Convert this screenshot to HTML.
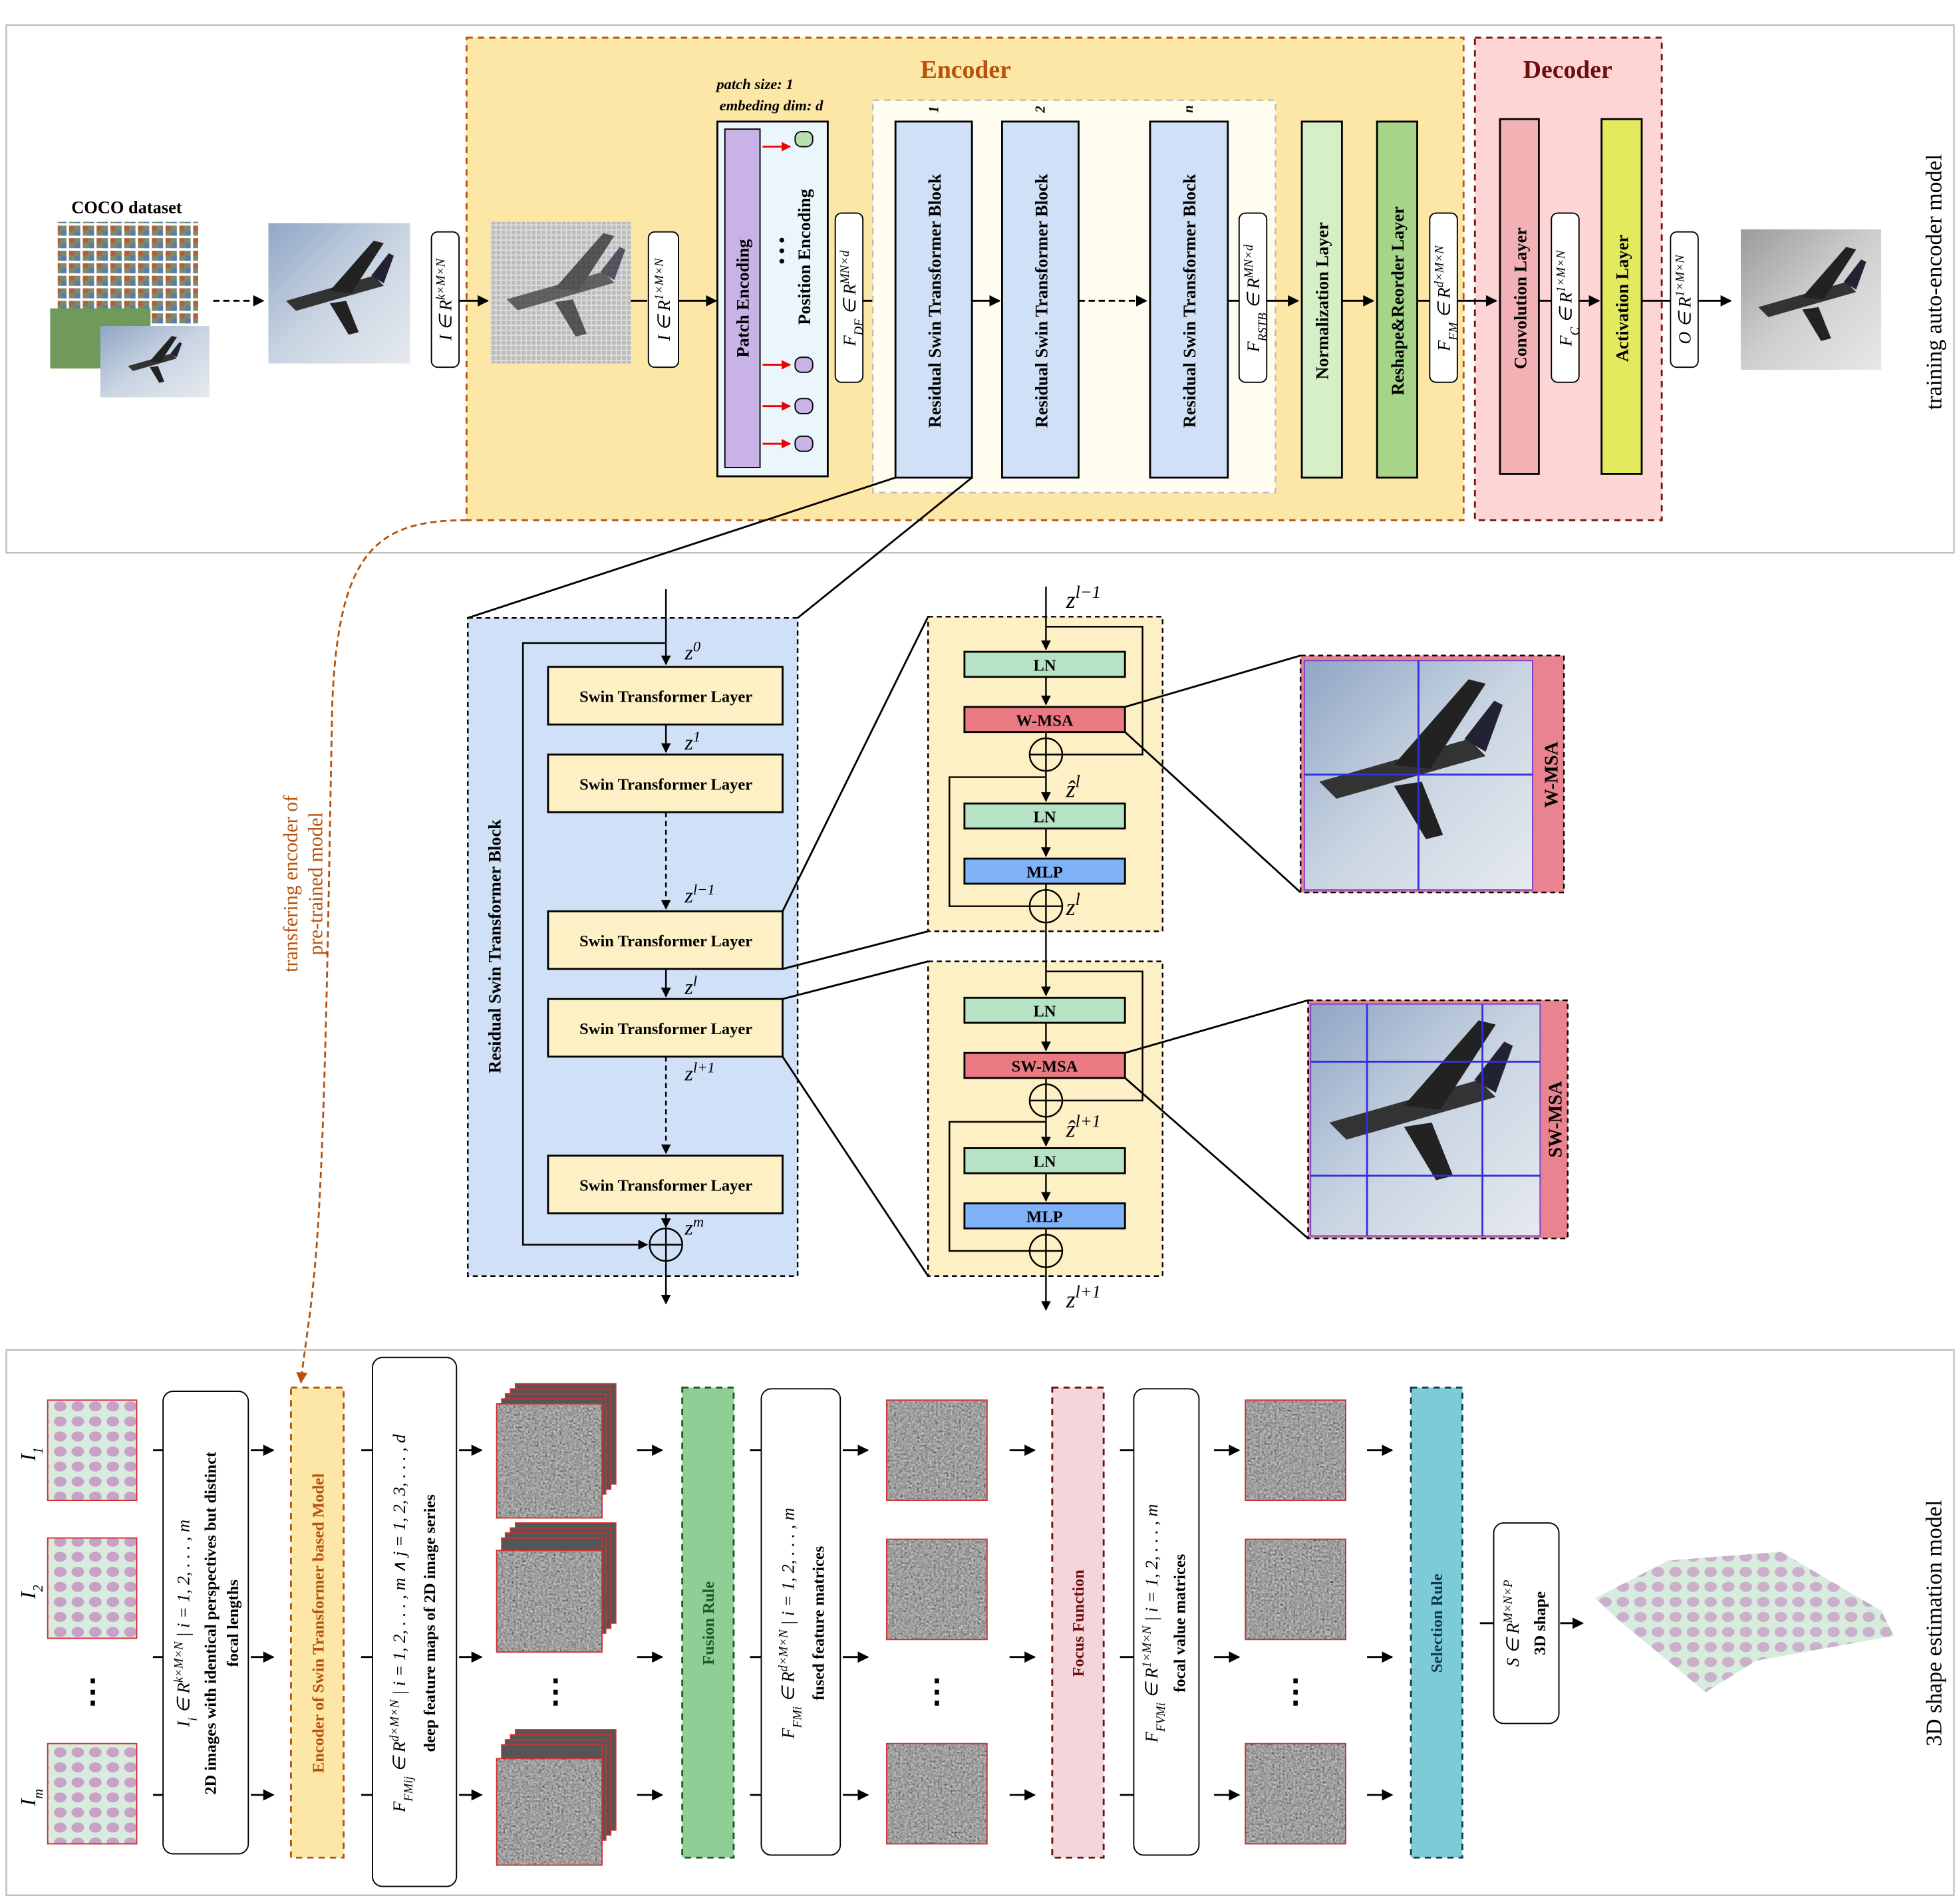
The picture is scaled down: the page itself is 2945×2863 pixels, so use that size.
<!DOCTYPE html>
<html><head><meta charset="utf-8"><style>html,body{margin:0;padding:0;background:#fff}svg{display:block}text{font-family:"Liberation Serif",serif}</style></head><body>
<svg xmlns="http://www.w3.org/2000/svg" width="2945" height="2863" viewBox="0 0 1562 1519" preserveAspectRatio="none">
<defs>
<marker id="ar" viewBox="0 0 10 10" refX="9" refY="5" markerWidth="6" markerHeight="6" orient="auto"><path d="M0,0L10,5L0,10z" fill="#000"/></marker>
<marker id="aro" viewBox="0 0 10 10" refX="9" refY="5" markerWidth="6" markerHeight="6" orient="auto"><path d="M0,0L10,5L0,10z" fill="#b5520c"/></marker>
<marker id="arr" viewBox="0 0 10 10" refX="9" refY="5" markerWidth="5" markerHeight="5" orient="auto"><path d="M0,0L10,5L0,10z" fill="#e00"/></marker>
<linearGradient id="sky" x1="0" y1="0" x2="1" y2="1"><stop offset="0" stop-color="#8fa6c4"/><stop offset=".5" stop-color="#c9d4e2"/><stop offset="1" stop-color="#e6eaef"/></linearGradient>
<linearGradient id="skyg" x1="0" y1="0" x2="1" y2="1"><stop offset="0" stop-color="#9a9a9a"/><stop offset=".5" stop-color="#cfcfcf"/><stop offset="1" stop-color="#e8e8e8"/></linearGradient>
<filter id="noise" x="0" y="0" width="1" height="1"><feTurbulence type="fractalNoise" baseFrequency="0.6" numOctaves="2" seed="3"/><feColorMatrix type="matrix" values="0.33 0.33 0.33 0 0  0.33 0.33 0.33 0 0  0.33 0.33 0.33 0 0  0 0 0 0 1"/><feComponentTransfer><feFuncR type="linear" slope="1.2" intercept="-0.25"/><feFuncG type="linear" slope="1.2" intercept="-0.25"/><feFuncB type="linear" slope="1.2" intercept="-0.25"/></feComponentTransfer></filter>
<pattern id="cells" width="14" height="12" patternUnits="userSpaceOnUse"><rect width="14" height="12" fill="#d8ecdd"/><ellipse cx="6" cy="6" rx="5" ry="4" fill="#c9a0c8"/></pattern>
<pattern id="pix" width="4" height="4" patternUnits="userSpaceOnUse"><rect width="4" height="4" fill="#ddd"/><rect width="3" height="3" fill="#bbb"/></pattern>
<pattern id="mos" width="11" height="10" patternUnits="userSpaceOnUse"><rect width="11" height="10" fill="#fff"/><rect width="9" height="8" fill="#7a8a6a"/><rect width="4" height="4" fill="#b06040"/><rect x="5" y="4" width="4" height="4" fill="#5a7ab0"/></pattern>
<g id="plane"><path d="M-40,8 L30,-12 L38,-4 L-32,16z" fill="#333"/><path d="M-5,0 L30,-40 L38,-38 L12,2z" fill="#222"/><path d="M-5,10 L10,35 L18,33 L8,8z" fill="#222"/><path d="M28,-12 L42,-30 L46,-28 L38,-6z" fill="#223"/></g>
</defs>

<!-- TOP PANEL -->
<rect x="5" y="20" width="1553" height="421" fill="#fff" stroke="#bbb" stroke-width="1.2"/>
<rect x="372" y="30" width="795" height="385" fill="#fde7a6" stroke="#b5520c" stroke-width="1.5" stroke-dasharray="5,4"/>
<text x="770" y="62" font-size="20" font-weight="bold" fill="#b5520c" text-anchor="middle">Encoder</text>
<rect x="1176" y="30" width="149" height="385" fill="#fdd5d5" stroke="#7a1010" stroke-width="1.5" stroke-dasharray="5,4"/>
<text x="1250" y="62" font-size="20" font-weight="bold" fill="#6e0e0e" text-anchor="middle">Decoder</text>
<text transform="translate(1548,225) rotate(-90)" font-size="18" text-anchor="middle">training auto-encoder model</text>

<text x="101" y="170" font-size="14" font-weight="bold" text-anchor="middle">COCO dataset</text>
<rect x="46" y="177" width="112" height="83" fill="url(#mos)"/>
<rect x="40" y="246" width="80" height="48" fill="#6f9a5a"/>
<rect x="80" y="260" width="87" height="57" fill="url(#sky)"/>
<use href="#plane" transform="translate(122,288) scale(0.5)"/>
<line x1="170" y1="240" x2="210" y2="240" stroke="#000" stroke-width="1.5" stroke-dasharray="5,3" marker-end="url(#ar)"/>
<rect x="214" y="178" width="113" height="112" fill="url(#sky)"/>
<use href="#plane" transform="translate(268,232) scale(1)"/>
<rect x="344" y="185" width="22" height="108" rx="5" fill="#fff" stroke="#000"/>
<text transform="translate(360,239) rotate(-90)" font-size="14" font-style="italic" text-anchor="middle">I ∈ R<tspan baseline-shift="super" font-size="10">k×M×N</tspan></text>
<line x1="366" y1="240" x2="389" y2="240" stroke="#000" stroke-width="1.5" marker-end="url(#ar)"/>
<rect x="391" y="177" width="112" height="113" fill="url(#pix)"/>
<use href="#plane" transform="translate(448,230) scale(1.1)" opacity=".7"/>
<line x1="503" y1="240" x2="516" y2="240" stroke="#000" stroke-width="1.5"/>
<rect x="517" y="185" width="24" height="108" rx="5" fill="#fff" stroke="#000"/>
<text transform="translate(534,239) rotate(-90)" font-size="14" font-style="italic" text-anchor="middle">I ∈ R<tspan baseline-shift="super" font-size="10">1×M×N</tspan></text>
<line x1="541" y1="240" x2="571" y2="240" stroke="#000" stroke-width="1.5" marker-end="url(#ar)"/>

<text x="602" y="71" font-size="12" font-style="italic" font-weight="bold" text-anchor="middle">patch size: 1</text>
<text x="615" y="88" font-size="12" font-style="italic" font-weight="bold" text-anchor="middle">embeding dim: d</text>
<rect x="572" y="97" width="88" height="283" fill="#eaf6fb" stroke="#000" stroke-width="1.5"/>
<rect x="578" y="103" width="28" height="270" fill="#c9b3e6" stroke="#000"/>
<text transform="translate(597,238) rotate(-90)" font-size="14" font-weight="bold" text-anchor="middle">Patch Encoding</text>
<text transform="translate(646,205) rotate(-90)" font-size="14" font-weight="bold" text-anchor="middle">Position Encoding</text>
<text transform="translate(628,200) rotate(-90)" font-size="14" font-weight="bold" text-anchor="middle">• • •</text>
<g stroke="#000" stroke-width="1">
<rect x="634" y="105" width="14" height="12" rx="5" fill="#b7e0b0"/>
<rect x="634" y="285" width="14" height="12" rx="5" fill="#c9b3e6"/>
<rect x="634" y="318" width="14" height="12" rx="5" fill="#c9b3e6"/>
<rect x="634" y="348" width="14" height="12" rx="5" fill="#c9b3e6"/>
</g>
<g stroke="#e00" stroke-width="1.5" marker-end="url(#arr)"><line x1="608" y1="117" x2="630" y2="117"/><line x1="608" y1="291" x2="630" y2="291"/><line x1="608" y1="324" x2="630" y2="324"/><line x1="608" y1="354" x2="630" y2="354"/></g>
<rect x="666" y="170" width="22" height="135" rx="5" fill="#fff" stroke="#000"/>
<text transform="translate(682,238) rotate(-90)" font-size="14" font-style="italic" text-anchor="middle">F<tspan font-size="10" baseline-shift="sub">DF</tspan> ∈ R<tspan baseline-shift="super" font-size="10">MN×d</tspan></text>
<line x1="688" y1="240" x2="711" y2="240" stroke="#000" stroke-width="1.5" marker-end="url(#ar)"/>

<rect x="696" y="80" width="321" height="313" fill="#fffdf0" stroke="#bbb" stroke-width="1.2" stroke-dasharray="5,4"/>
<g fill="#cfe0f7" stroke="#000" stroke-width="1.5">
<rect x="714" y="97" width="61" height="284"/><rect x="799" y="97" width="61" height="284"/><rect x="917" y="97" width="62" height="284"/></g>
<g font-size="14" font-weight="bold" text-anchor="middle">
<text transform="translate(750,240) rotate(-90)">Residual Swin Transformer Block</text>
<text transform="translate(835,240) rotate(-90)">Residual Swin Transformer Block</text>
<text transform="translate(953,240) rotate(-90)">Residual Swin Transformer Block</text></g>
<g font-size="11" font-style="italic" font-weight="bold"><text transform="translate(748,90) rotate(-90)">1</text><text transform="translate(833,90) rotate(-90)">2</text><text transform="translate(951,90) rotate(-90)">n</text></g>
<line x1="775" y1="240" x2="797" y2="240" stroke="#000" stroke-width="1.5" marker-end="url(#ar)"/>
<line x1="860" y1="240" x2="914" y2="240" stroke="#000" stroke-width="1.5" stroke-dasharray="5,3" marker-end="url(#ar)"/>
<line x1="979" y1="240" x2="988" y2="240" stroke="#000" stroke-width="1.5"/>
<rect x="988" y="170" width="22" height="135" rx="5" fill="#fff" stroke="#000"/>
<text transform="translate(1004,238) rotate(-90)" font-size="14" font-style="italic" text-anchor="middle">F<tspan font-size="10" baseline-shift="sub">RSTB</tspan> ∈ R<tspan baseline-shift="super" font-size="10">MN×d</tspan></text>
<line x1="1010" y1="240" x2="1035" y2="240" stroke="#000" stroke-width="1.5" marker-end="url(#ar)"/>
<rect x="1038" y="97" width="32" height="284" fill="#d6efc7" stroke="#000" stroke-width="1.5"/>
<text transform="translate(1059,240) rotate(-90)" font-size="14" font-weight="bold" text-anchor="middle">Normalization Layer</text>
<line x1="1070" y1="240" x2="1095" y2="240" stroke="#000" stroke-width="1.5" marker-end="url(#ar)"/>
<rect x="1098" y="97" width="32" height="284" fill="#a6d58a" stroke="#000" stroke-width="1.5"/>
<text transform="translate(1119,240) rotate(-90)" font-size="14" font-weight="bold" text-anchor="middle">Reshape&amp;Reorder Layer</text>
<line x1="1130" y1="240" x2="1140" y2="240" stroke="#000" stroke-width="1.5"/>
<rect x="1140" y="170" width="22" height="135" rx="5" fill="#fff" stroke="#000"/>
<text transform="translate(1156,238) rotate(-90)" font-size="14" font-style="italic" text-anchor="middle">F<tspan font-size="10" baseline-shift="sub">FM</tspan> ∈ R<tspan baseline-shift="super" font-size="10">d×M×N</tspan></text>
<line x1="1162" y1="240" x2="1193" y2="240" stroke="#000" stroke-width="1.5" marker-end="url(#ar)"/>
<rect x="1196" y="95" width="31" height="283" fill="#f2b1b5" stroke="#000" stroke-width="1.5"/>
<text transform="translate(1217,238) rotate(-90)" font-size="14" font-weight="bold" text-anchor="middle">Convolution Layer</text>
<line x1="1227" y1="240" x2="1237" y2="240" stroke="#000" stroke-width="1.5"/>
<rect x="1237" y="170" width="22" height="135" rx="5" fill="#fff" stroke="#000"/>
<text transform="translate(1253,238) rotate(-90)" font-size="14" font-style="italic" text-anchor="middle">F<tspan font-size="10" baseline-shift="sub">C</tspan> ∈ R<tspan baseline-shift="super" font-size="10">1×M×N</tspan></text>
<line x1="1259" y1="240" x2="1275" y2="240" stroke="#000" stroke-width="1.5" marker-end="url(#ar)"/>
<rect x="1277" y="95" width="32" height="283" fill="#e3ea5d" stroke="#000" stroke-width="1.5"/>
<text transform="translate(1298,238) rotate(-90)" font-size="14" font-weight="bold" text-anchor="middle">Activation Layer</text>
<line x1="1309" y1="240" x2="1332" y2="240" stroke="#000" stroke-width="1.5"/>
<rect x="1332" y="185" width="22" height="108" rx="5" fill="#fff" stroke="#000"/>
<text transform="translate(1348,239) rotate(-90)" font-size="14" font-style="italic" text-anchor="middle">O ∈ R<tspan baseline-shift="super" font-size="10">1×M×N</tspan></text>
<line x1="1354" y1="240" x2="1380" y2="240" stroke="#000" stroke-width="1.5" marker-end="url(#ar)"/>
<rect x="1388" y="183" width="112" height="112" fill="url(#skyg)"/>
<use href="#plane" transform="translate(1442,237) scale(1)"/>

<text transform="translate(237,705) rotate(-90)" font-size="16" fill="#b5520c" text-anchor="middle">transfering encoder of</text>
<text transform="translate(257,705) rotate(-90)" font-size="16" fill="#b5520c" text-anchor="middle">pre-trained model</text>

<!-- MIDDLE -->
<line x1="714" y1="381" x2="373" y2="493" stroke="#000" stroke-width="1.5"/>
<line x1="775" y1="381" x2="636" y2="493" stroke="#000" stroke-width="1.5"/>
<rect x="373" y="493" width="263" height="525" fill="#cfe0f7" stroke="#000" stroke-width="1.3" stroke-dasharray="4,3"/>
<text transform="translate(399,755) rotate(-90)" font-size="14" font-weight="bold" text-anchor="middle">Residual Swin Transformer Block</text>
<g fill="#fdf0c4" stroke="#000" stroke-width="1.5">
<rect x="437" y="532" width="187" height="46"/><rect x="437" y="602" width="187" height="46"/><rect x="437" y="727" width="187" height="46"/><rect x="437" y="797" width="187" height="46"/><rect x="437" y="922" width="187" height="46"/></g>
<g font-size="13" font-weight="bold" text-anchor="middle"><text x="531" y="560">Swin Transformer Layer</text><text x="531" y="630">Swin Transformer Layer</text><text x="531" y="755">Swin Transformer Layer</text><text x="531" y="825">Swin Transformer Layer</text><text x="531" y="950">Swin Transformer Layer</text></g>
<g stroke="#000" stroke-width="1.3" fill="none">
<line x1="531" y1="470" x2="531" y2="530" marker-end="url(#ar)"/>
<line x1="531" y1="578" x2="531" y2="600" marker-end="url(#ar)"/>
<line x1="531" y1="648" x2="531" y2="725" stroke-dasharray="4,3" marker-end="url(#ar)"/>
<line x1="531" y1="773" x2="531" y2="795" marker-end="url(#ar)"/>
<line x1="531" y1="843" x2="531" y2="920" stroke-dasharray="4,3" marker-end="url(#ar)"/>
<line x1="531" y1="968" x2="531" y2="979" marker-end="url(#ar)"/>
<polyline points="531,513 417,513 417,993 516,993" marker-end="url(#ar)"/>
<circle cx="531" cy="993" r="13"/><line x1="518" y1="993" x2="544" y2="993"/><line x1="531" y1="980" x2="531" y2="1006"/>
<line x1="531" y1="1006" x2="531" y2="1040" marker-end="url(#ar)"/>
</g>
<g font-size="17" font-style="italic"><text x="546" y="526">z<tspan baseline-shift="super" font-size="12">0</tspan></text><text x="546" y="598">z<tspan baseline-shift="super" font-size="12">1</tspan></text><text x="546" y="720">z<tspan baseline-shift="super" font-size="12">l−1</tspan></text><text x="546" y="793">z<tspan baseline-shift="super" font-size="12">l</tspan></text><text x="546" y="862">z<tspan baseline-shift="super" font-size="12">l+1</tspan></text><text x="546" y="985">z<tspan baseline-shift="super" font-size="12">m</tspan></text></g>

<g stroke="#000" stroke-width="1.5"><line x1="624" y1="727" x2="740" y2="492"/><line x1="624" y1="773" x2="740" y2="743"/><line x1="624" y1="797" x2="740" y2="767"/><line x1="624" y1="843" x2="740" y2="1018"/></g>
<rect x="740" y="492" width="187" height="251" fill="#fdf0c4" stroke="#000" stroke-width="1.3" stroke-dasharray="4,3"/>
<rect x="740" y="767" width="187" height="251" fill="#fdf0c4" stroke="#000" stroke-width="1.3" stroke-dasharray="4,3"/>
<g stroke="#000" stroke-width="1.5">
<rect x="769" y="520" width="128" height="20" fill="#b5e3c3"/><rect x="769" y="564" width="128" height="20" fill="#e97a82"/><rect x="769" y="641" width="128" height="20" fill="#b5e3c3"/><rect x="769" y="685" width="128" height="20" fill="#7fb2f7"/>
<rect x="769" y="796" width="128" height="20" fill="#b5e3c3"/><rect x="769" y="840" width="128" height="20" fill="#e97a82"/><rect x="769" y="916" width="128" height="20" fill="#b5e3c3"/><rect x="769" y="960" width="128" height="20" fill="#7fb2f7"/></g>
<g font-size="13" font-weight="bold" text-anchor="middle"><text x="833" y="535">LN</text><text x="833" y="579">W-MSA</text><text x="833" y="656">LN</text><text x="833" y="700">MLP</text><text x="833" y="811">LN</text><text x="833" y="855">SW-MSA</text><text x="833" y="931">LN</text><text x="833" y="975">MLP</text></g>
<g stroke="#000" stroke-width="1.3" fill="none">
<line x1="834" y1="468" x2="834" y2="518" marker-end="url(#ar)"/>
<line x1="834" y1="540" x2="834" y2="562" marker-end="url(#ar)"/>
<line x1="834" y1="584" x2="834" y2="589"/>
<line x1="834" y1="615" x2="834" y2="639" marker-end="url(#ar)"/>
<line x1="834" y1="661" x2="834" y2="683" marker-end="url(#ar)"/>
<line x1="834" y1="705" x2="834" y2="710"/>
<line x1="834" y1="736" x2="834" y2="794" marker-end="url(#ar)"/>
<line x1="834" y1="816" x2="834" y2="838" marker-end="url(#ar)"/>
<line x1="834" y1="860" x2="834" y2="865"/>
<line x1="834" y1="891" x2="834" y2="914" marker-end="url(#ar)"/>
<line x1="834" y1="936" x2="834" y2="958" marker-end="url(#ar)"/>
<line x1="834" y1="980" x2="834" y2="985"/>
<line x1="834" y1="1011" x2="834" y2="1045" marker-end="url(#ar)"/>
<polyline points="834,500 911,500 911,602 847,602"/>
<polyline points="834,620 757,620 757,723 821,723"/>
<polyline points="834,775 911,775 911,878 847,878"/>
<polyline points="834,895 757,895 757,998 821,998"/>
<circle cx="834" cy="602" r="13"/><line x1="821" y1="602" x2="847" y2="602"/><line x1="834" y1="589" x2="834" y2="615"/>
<circle cx="834" cy="723" r="13"/><line x1="821" y1="723" x2="847" y2="723"/><line x1="834" y1="710" x2="834" y2="736"/>
<circle cx="834" cy="878" r="13"/><line x1="821" y1="878" x2="847" y2="878"/><line x1="834" y1="865" x2="834" y2="891"/>
<circle cx="834" cy="998" r="13"/><line x1="821" y1="998" x2="847" y2="998"/><line x1="834" y1="985" x2="834" y2="1011"/>
</g>
<g font-size="19" font-style="italic"><text x="850" y="485">z<tspan baseline-shift="super" font-size="14">l−1</tspan></text><text x="850" y="636">ẑ<tspan baseline-shift="super" font-size="14">l</tspan></text><text x="850" y="730">z<tspan baseline-shift="super" font-size="14">l</tspan></text><text x="850" y="907">ẑ<tspan baseline-shift="super" font-size="14">l+1</tspan></text><text x="850" y="1043">z<tspan baseline-shift="super" font-size="14">l+1</tspan></text></g>

<g stroke="#000" stroke-width="1.5"><line x1="897" y1="564" x2="1037" y2="523"/><line x1="897" y1="584" x2="1037" y2="712"/><line x1="897" y1="840" x2="1043" y2="798"/><line x1="897" y1="860" x2="1043" y2="988"/></g>
<rect x="1037" y="523" width="210" height="189" fill="#e9838f" stroke="#000" stroke-width="1.3" stroke-dasharray="4,3"/>
<rect x="1040" y="527" width="182" height="183" fill="url(#sky)" stroke="#7a3fd0"/>
<use href="#plane" transform="translate(1120,610) scale(1.7)"/>
<g stroke="#3030e0" stroke-width="1.5"><line x1="1131" y1="527" x2="1131" y2="710"/><line x1="1040" y1="618" x2="1222" y2="618"/></g>
<text transform="translate(1242,618) rotate(-90)" font-size="15" font-weight="bold" text-anchor="middle">W-MSA</text>
<rect x="1043" y="798" width="207" height="190" fill="#e9838f" stroke="#000" stroke-width="1.3" stroke-dasharray="4,3"/>
<rect x="1045" y="801" width="183" height="185" fill="url(#sky)" stroke="#7a3fd0"/>
<use href="#plane" transform="translate(1128,882) scale(1.7)"/>
<g stroke="#3030e0" stroke-width="1.5"><line x1="1090" y1="801" x2="1090" y2="986"/><line x1="1182" y1="801" x2="1182" y2="986"/><line x1="1045" y1="847" x2="1228" y2="847"/><line x1="1045" y1="938" x2="1228" y2="938"/></g>
<text transform="translate(1245,893) rotate(-90)" font-size="15" font-weight="bold" text-anchor="middle">SW-MSA</text>

<!-- BOTTOM PANEL -->
<rect x="5" y="1077" width="1553" height="435" fill="#fff" stroke="#bbb" stroke-width="1.2"/>
<!-- orange transfer curve (drawn after panel) -->
<path d="M372,415 C300,415 270,440 265,560 C262,700 260,900 252,1000 C248,1050 242,1080 240,1103" fill="none" stroke="#b5520c" stroke-width="1.5" stroke-dasharray="5,3" marker-end="url(#aro)"/>
<text transform="translate(1548,1295) rotate(-90)" font-size="18" text-anchor="middle">3D shape estimation model</text>
<g stroke="#d03030" stroke-width="1"><rect x="38" y="1117" width="71" height="80" fill="url(#cells)"/><rect x="38" y="1227" width="71" height="80" fill="url(#cells)"/><rect x="38" y="1391" width="71" height="80" fill="url(#cells)"/></g>
<g font-size="17" font-style="italic"><text transform="translate(28,1160) rotate(-90)" text-anchor="middle">I<tspan font-size="11" baseline-shift="sub">1</tspan></text><text transform="translate(28,1270) rotate(-90)" text-anchor="middle">I<tspan font-size="11" baseline-shift="sub">2</tspan></text><text transform="translate(28,1434) rotate(-90)" text-anchor="middle">I<tspan font-size="11" baseline-shift="sub">m</tspan></text></g>
<g font-size="26" font-weight="bold" text-anchor="middle"><text x="74" y="1358">⋮</text><text x="443" y="1358">⋮</text><text x="747" y="1358">⋮</text><text x="1033" y="1358">⋮</text></g>

<g stroke="#000" stroke-width="1.5">
<line x1="122" y1="1157" x2="130" y2="1157"/><line x1="122" y1="1322" x2="130" y2="1322"/><line x1="122" y1="1432" x2="130" y2="1432"/>
</g>
<g stroke="#000" stroke-width="1.5" marker-end="url(#ar)">
<line x1="200" y1="1157" x2="218" y2="1157"/><line x1="200" y1="1322" x2="218" y2="1322"/><line x1="200" y1="1432" x2="218" y2="1432"/>
<line x1="366" y1="1157" x2="384" y2="1157"/><line x1="366" y1="1322" x2="384" y2="1322"/><line x1="366" y1="1432" x2="384" y2="1432"/>
<line x1="508" y1="1157" x2="528" y2="1157"/><line x1="508" y1="1322" x2="528" y2="1322"/><line x1="508" y1="1432" x2="528" y2="1432"/>
<line x1="672" y1="1157" x2="692" y2="1157"/><line x1="672" y1="1322" x2="692" y2="1322"/><line x1="672" y1="1432" x2="692" y2="1432"/>
<line x1="805" y1="1157" x2="825" y2="1157"/><line x1="805" y1="1322" x2="825" y2="1322"/><line x1="805" y1="1432" x2="825" y2="1432"/>
<line x1="968" y1="1157" x2="988" y2="1157"/><line x1="968" y1="1322" x2="988" y2="1322"/><line x1="968" y1="1432" x2="988" y2="1432"/>
<line x1="1090" y1="1157" x2="1110" y2="1157"/><line x1="1090" y1="1322" x2="1110" y2="1322"/><line x1="1090" y1="1432" x2="1110" y2="1432"/>
<line x1="1244" y1="1295" x2="1262" y2="1295"/>
</g>
<g stroke="#000" stroke-width="1.5">
<line x1="288" y1="1157" x2="297" y2="1157"/><line x1="288" y1="1322" x2="297" y2="1322"/><line x1="288" y1="1432" x2="297" y2="1432"/>
<line x1="598" y1="1157" x2="607" y2="1157"/><line x1="598" y1="1322" x2="607" y2="1322"/><line x1="598" y1="1432" x2="607" y2="1432"/>
<line x1="893" y1="1157" x2="904" y2="1157"/><line x1="893" y1="1322" x2="904" y2="1322"/><line x1="893" y1="1432" x2="904" y2="1432"/>
<line x1="1180" y1="1295" x2="1191" y2="1295"/>
</g>

<rect x="130" y="1110" width="68" height="369" rx="8" fill="#fff" stroke="#000"/>
<text transform="translate(151,1295) rotate(-90)" font-size="14" font-style="italic" text-anchor="middle">I<tspan font-size="10" baseline-shift="sub">i</tspan> ∈ R<tspan font-size="10" baseline-shift="super">k×M×N</tspan> | i = 1, 2, . . . , m</text>
<text transform="translate(172,1295) rotate(-90)" font-size="13" font-weight="bold" text-anchor="middle">2D images with identical perspectives but distinct</text>
<text transform="translate(190,1295) rotate(-90)" font-size="13" font-weight="bold" text-anchor="middle">focal lengths</text>

<rect x="232" y="1107" width="42" height="375" fill="#fde7a6" stroke="#b5520c" stroke-width="1.5" stroke-dasharray="5,4"/>
<text transform="translate(258,1295) rotate(-90)" font-size="13" font-weight="bold" fill="#b5520c" text-anchor="middle">Encoder of Swin Transformer based Model</text>

<rect x="297" y="1083" width="67" height="422" rx="8" fill="#fff" stroke="#000"/>
<text transform="translate(323,1295) rotate(-90)" font-size="14" font-style="italic" text-anchor="middle">F<tspan font-size="10" baseline-shift="sub">FMij</tspan> ∈ R<tspan font-size="10" baseline-shift="super">d×M×N</tspan> | i = 1, 2, . . . , m ∧ j = 1, 2, 3, . . . , d</text>
<text transform="translate(347,1295) rotate(-90)" font-size="13" font-weight="bold" text-anchor="middle">deep feature maps of 2D image series</text>

<!-- stacks -->
<g stroke="#d03030" stroke-width="1">
<g><rect x="411" y="1104" width="80" height="80" fill="#555"/><rect x="407" y="1108" width="80" height="80" fill="#555"/><rect x="403" y="1112" width="80" height="80" fill="#555"/><rect x="400" y="1116" width="80" height="80" fill="#555"/><rect x="396" y="1120" width="84" height="91" fill="#666" filter="url(#noise)"/></g>
<g><rect x="411" y="1215" width="80" height="80" fill="#555"/><rect x="407" y="1219" width="80" height="80" fill="#555"/><rect x="403" y="1223" width="80" height="80" fill="#555"/><rect x="400" y="1227" width="80" height="80" fill="#555"/><rect x="396" y="1237" width="84" height="81" fill="#666" filter="url(#noise)"/></g>
<g><rect x="411" y="1380" width="80" height="80" fill="#555"/><rect x="407" y="1384" width="80" height="80" fill="#555"/><rect x="403" y="1388" width="80" height="80" fill="#555"/><rect x="400" y="1392" width="80" height="80" fill="#555"/><rect x="396" y="1403" width="84" height="85" fill="#888" filter="url(#noise)"/></g>
<rect x="707" y="1117" width="80" height="80" filter="url(#noise)"/><rect x="707" y="1228" width="80" height="80" filter="url(#noise)"/><rect x="707" y="1391" width="80" height="80" filter="url(#noise)"/>
<rect x="993" y="1117" width="80" height="80" filter="url(#noise)"/><rect x="993" y="1228" width="80" height="80" filter="url(#noise)"/><rect x="993" y="1391" width="80" height="80" filter="url(#noise)"/>
</g>
<g fill="none" stroke="#d03030" stroke-width="1">
<rect x="396" y="1120" width="84" height="91"/><rect x="396" y="1237" width="84" height="81"/><rect x="396" y="1403" width="84" height="85"/>
<rect x="707" y="1117" width="80" height="80"/><rect x="707" y="1228" width="80" height="80"/><rect x="707" y="1391" width="80" height="80"/>
<rect x="993" y="1117" width="80" height="80"/><rect x="993" y="1228" width="80" height="80"/><rect x="993" y="1391" width="80" height="80"/>
</g>

<rect x="544" y="1107" width="41" height="375" fill="#8fcf95" stroke="#1e5a24" stroke-width="1.5" stroke-dasharray="5,4"/>
<text transform="translate(569,1295) rotate(-90)" font-size="13" font-weight="bold" fill="#1e5a24" text-anchor="middle">Fusion Rule</text>
<rect x="607" y="1108" width="63" height="372" rx="8" fill="#fff" stroke="#000"/>
<text transform="translate(633,1295) rotate(-90)" font-size="14" font-style="italic" text-anchor="middle">F<tspan font-size="10" baseline-shift="sub">FMi</tspan> ∈ R<tspan font-size="10" baseline-shift="super">d×M×N</tspan> | i = 1, 2, . . . , m</text>
<text transform="translate(657,1295) rotate(-90)" font-size="13" font-weight="bold" text-anchor="middle">fused feature matrices</text>

<rect x="839" y="1107" width="41" height="375" fill="#f5d5dc" stroke="#6e0e0e" stroke-width="1.5" stroke-dasharray="5,4"/>
<text transform="translate(864,1295) rotate(-90)" font-size="13" font-weight="bold" fill="#6e0e0e" text-anchor="middle">Focus Function</text>
<rect x="904" y="1108" width="52" height="372" rx="8" fill="#fff" stroke="#000"/>
<text transform="translate(923,1295) rotate(-90)" font-size="14" font-style="italic" text-anchor="middle">F<tspan font-size="10" baseline-shift="sub">FVMi</tspan> ∈ R<tspan font-size="10" baseline-shift="super">1×M×N</tspan> | i = 1, 2, . . . , m</text>
<text transform="translate(945,1295) rotate(-90)" font-size="13" font-weight="bold" text-anchor="middle">focal value matrices</text>

<rect x="1125" y="1107" width="41" height="375" fill="#7ccbd6" stroke="#143a5a" stroke-width="1.5" stroke-dasharray="5,4"/>
<text transform="translate(1150,1295) rotate(-90)" font-size="13" font-weight="bold" fill="#143a5a" text-anchor="middle">Selection Rule</text>
<rect x="1191" y="1215" width="52" height="160" rx="8" fill="#fff" stroke="#000"/>
<text transform="translate(1211,1295) rotate(-90)" font-size="14" font-style="italic" text-anchor="middle">S ∈ R<tspan font-size="10" baseline-shift="super">M×N×P</tspan></text>
<text transform="translate(1232,1295) rotate(-90)" font-size="13" font-weight="bold" text-anchor="middle">3D shape</text>

<path d="M1272,1275 L1330,1245 L1420,1238 L1500,1285 L1510,1305 L1400,1325 L1360,1350 L1290,1292 z" fill="#d8ecdd"/>
<path d="M1272,1275 L1330,1245 L1420,1238 L1500,1285 L1510,1305 L1400,1325 L1360,1350 L1290,1292 z" fill="url(#cells)" opacity=".8"/>
</svg>
</body></html>
